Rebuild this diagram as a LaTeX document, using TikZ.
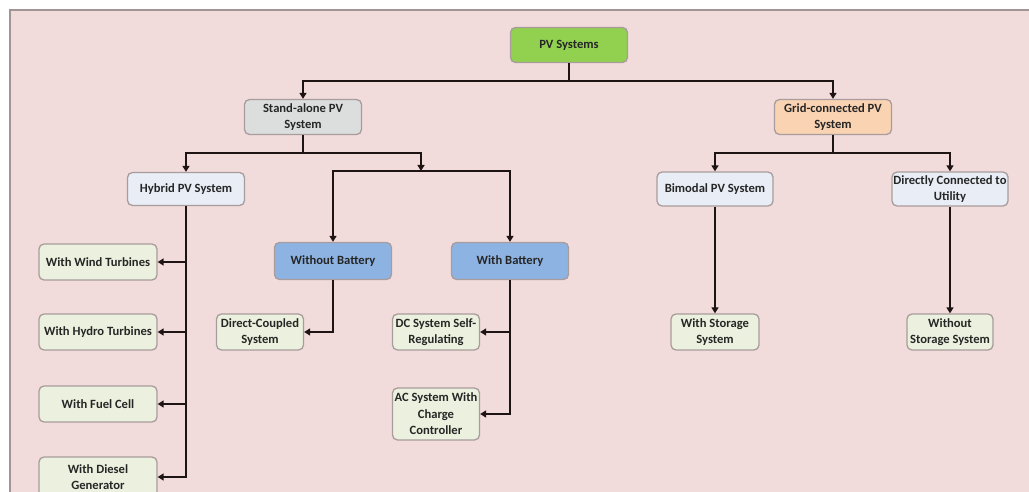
\documentclass[tikz,border=0pt]{standalone}
\usepackage{fontspec}
\setmainfont{Carlito}
\usetikzlibrary{arrows.meta}

\definecolor{bgpink}{HTML}{F2DCDB}
\definecolor{frameline}{HTML}{A09494}
\definecolor{boxline}{HTML}{A89C9C}
\definecolor{rootgreen}{HTML}{92D050}
\definecolor{sagray}{HTML}{DCDEDE}
\definecolor{gcorange}{HTML}{FAD3B2}
\definecolor{paleblue}{HTML}{E8EDF6}
\definecolor{midblue}{HTML}{8DB3E2}
\definecolor{palegreen}{HTML}{EBF1DE}
\definecolor{txt}{HTML}{262626}
\definecolor{wire}{HTML}{1E1414}

\tikzset{
  box/.style={draw=boxline, line width=1.3pt, rounded corners=5pt,
    inner sep=0pt, align=center, text=txt,
    font=\fontsize{12.6}{16.5}\selectfont\bfseries},
  wide/.style={box, minimum width=117pt, minimum height=35pt},
  narrow/.style={box, minimum width=87pt, minimum height=36pt},
  arr/.style={draw=wire, line width=2.4pt,
    -{Triangle[length=6pt,width=7pt]}},
}

\begin{document}
\begin{tikzpicture}[x=1pt,y=-1pt]
  % canvas
  \useasboundingbox (0,0) rectangle (1029,492);
  \clip (0,0) rectangle (1029,492);
  \fill[white] (0,0) rectangle (1029,492);
  \fill[bgpink] (10,10) rectangle (1040,500);
  \draw[frameline, line width=1.2pt] (10,500) -- (10,10) -- (1040,10);

  % level 0 and 1
  \node[wide, fill=rootgreen] (pv) at (569,45) {PV Systems};
  \node[wide, fill=sagray] (sa) at (303,117) {Stand-alone PV\\System};
  \node[wide, fill=gcorange] (gc) at (833,117) {Grid-connected PV\\System};

  % stand-alone branch
  \node[wide, fill=paleblue, minimum height=33pt] (hy) at (186,189) {Hybrid PV System};
  \coordinate (jn) at (421,171);
  \node[wide, fill=midblue, minimum height=37pt] (wob) at (333,261) {Without Battery};
  \node[wide, fill=midblue, minimum height=37pt] (wb) at (510,261) {With Battery};

  \node[wide, fill=palegreen, minimum width=118pt, minimum height=36pt] (wind) at (98,262) {With Wind Turbines};
  \node[wide, fill=palegreen, minimum width=118pt, minimum height=36pt] (hydro) at (98,332) {With Hydro Turbines};
  \node[wide, fill=palegreen, minimum width=118pt, minimum height=36pt] (fuel) at (98,404) {With Fuel Cell};
  \node[wide, fill=palegreen, minimum width=118pt, minimum height=40pt] (diesel) at (98,477) {With Diesel\\Generator};

  \node[narrow, fill=palegreen] (dcs) at (260,332) {Direct-Coupled\\System};
  \node[narrow, fill=palegreen] (dcsr) at (436,332) {DC System Self-\\Regulating};
  \node[narrow, fill=palegreen, minimum height=52pt] (ac) at (436,414) {AC System With\\Charge\\Controller};

  % grid-connected branch
  \node[wide, fill=paleblue, minimum width=116pt, minimum height=34pt] (bim) at (715,189) {Bimodal PV System};
  \node[wide, fill=paleblue, minimum width=116pt, minimum height=34pt] (dir) at (950,189) {Directly Connected to\\Utility};
  \node[narrow, fill=palegreen, minimum width=88pt] (ws) at (715,332) {With Storage\\System};
  \node[narrow, fill=palegreen, minimum width=86pt] (wos) at (950,332) {Without\\Storage System};

  % connectors
  \draw[arr] (pv.south) -- ++(0,18) -| (sa.north);
  \draw[arr] (pv.south) -- ++(0,18) -| (gc.north);

  \draw[arr] (sa.south) -- ++(0,18) -| (hy.north);
  \draw[arr] (sa.south) -- ++(0,18) -| (jn);
  \draw[arr] (jn) -| (wob.north);
  \draw[arr] (jn) -| (wb.north);

  \draw[arr] (hy.south) |- (wind.east);
  \draw[arr] (hy.south) |- (hydro.east);
  \draw[arr] (hy.south) |- (fuel.east);
  \draw[arr] (hy.south) |- (diesel.east);

  \draw[arr] (wob.south) |- (dcs.east);
  \draw[arr] (wb.south) |- (dcsr.east);
  \draw[arr] (wb.south) |- (ac.east);

  \draw[arr] (gc.south) -- ++(0,18) -| (bim.north);
  \draw[arr] (gc.south) -- ++(0,18) -| (dir.north);
  \draw[arr] (bim.south) -- (ws.north);
  \draw[arr] (dir.south) -- (wos.north);
\end{tikzpicture}
\end{document}
